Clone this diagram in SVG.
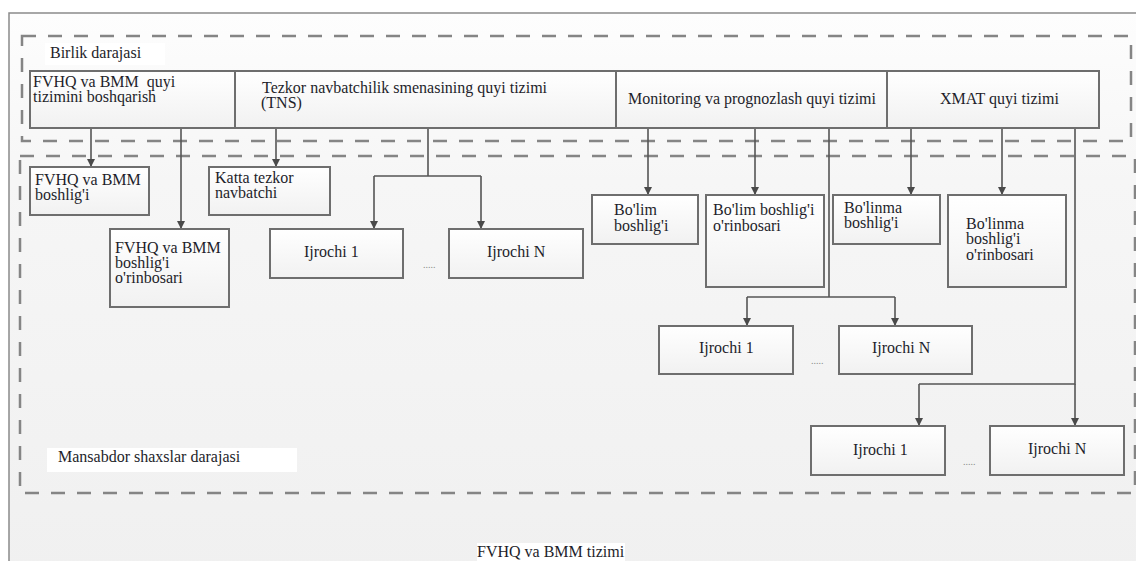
<svg xmlns="http://www.w3.org/2000/svg" width="1136" height="561" viewBox="0 0 1136 561">
<defs>
<linearGradient id="bg" x1="0" y1="0" x2="0" y2="1">
<stop offset="0" stop-color="#fdfdfd"/>
<stop offset="0.3" stop-color="#f6f6f6"/>
<stop offset="1" stop-color="#f0f0f0"/>
</linearGradient>
<linearGradient id="box" x1="0" y1="0" x2="0" y2="1">
<stop offset="0" stop-color="#ffffff"/>
<stop offset="1" stop-color="#f1f1f1"/>
</linearGradient>
<marker id="arr" viewBox="0 0 10 10" refX="10" refY="5" markerWidth="10" markerHeight="8" markerUnits="userSpaceOnUse" orient="auto">
<path d="M0,0 L10,5 L0,10 z" fill="#4a4a4a"/>
</marker>
</defs>
<style>
text { font-family: "Liberation Serif", "Times New Roman", serif; font-size: 16px; fill: #1e1e2a; }
.node rect { fill: url(#box); stroke: #6e6e6e; stroke-width: 2; }
.dash { fill: none; stroke: #858585; stroke-width: 2.5; stroke-dasharray: 14 12; }
.conn path { fill: none; stroke: #555; stroke-width: 1.6; }
.conn path.a { marker-end: url(#arr); }
.dots { font-size: 10px; fill: #8a8a8a; }
</style>
<rect x="0" y="0" width="1136" height="561" fill="#ffffff"/>
<rect x="9" y="13" width="1140" height="560" fill="url(#bg)" stroke="#8a8a8a" stroke-width="1.5"/>
<rect x="22" y="36" width="1109" height="105" class="dash"/>
<rect x="20" y="156" width="1115" height="337" class="dash"/>
<g id="level-labels">
<rect x="45" y="43" width="120" height="22" fill="#ffffff"/>
<text x="50" y="58">Birlik darajasi</text>
<rect x="47" y="448" width="250" height="24" fill="#ffffff"/>
<text x="58" y="462">Mansabdor shaxslar darajasi</text>
<rect x="477" y="543" width="148" height="18" fill="#ffffff"/>
<text x="477" y="557">FVHQ va BMM tizimi</text>
</g>
<g id="connectors" class="conn">
<path class="a" d="M91,128 V167"/>
<path class="a" d="M181,128 V229"/>
<path class="a" d="M276,128 V167"/>
<path d="M428,128 V176 M374,176 H481"/>
<path class="a" d="M374,176 V229"/>
<path class="a" d="M481,176 V229"/>
<path class="a" d="M648,128 V195"/>
<path class="a" d="M755,128 V195"/>
<path d="M829,128 V297 M747,297 H895"/>
<path class="a" d="M747,297 V326"/>
<path class="a" d="M895,297 V326"/>
<path class="a" d="M911,128 V195"/>
<path class="a" d="M1002,128 V195"/>
<path d="M1075,128 V384 H919"/>
<path class="a" d="M919,384 V426"/>
<path class="a" d="M1075,384 V426"/>
</g>
<g id="n1" class="node"><rect x="30" y="71" width="205" height="57"/><text x="33" y="87">FVHQ va BMM&#160; quyi</text><text x="33" y="102">tizimini boshqarish</text></g>
<g id="n2" class="node"><rect x="235" y="71" width="381" height="57"/><text x="262" y="93">Tezkor navbatchilik smenasining quyi tizimi</text><text x="261" y="108">(TNS)</text></g>
<g id="n3" class="node"><rect x="616" y="71" width="271" height="57"/><text x="628" y="104">Monitoring va prognozlash quyi tizimi</text></g>
<g id="n4" class="node"><rect x="887" y="71" width="212" height="57"/><text x="940" y="104">XMAT quyi tizimi</text></g>
<g id="n5" class="node"><rect x="30" y="167" width="119" height="48"/><text x="35" y="185">FVHQ va BMM</text><text x="35" y="200">boshlig'i</text></g>
<g id="n6" class="node"><rect x="110" y="229" width="119" height="78"/><text x="115" y="253">FVHQ va BMM</text><text x="115" y="268">boshlig'i</text><text x="115" y="283">o'rinbosari</text></g>
<g id="n7" class="node"><rect x="209" y="167" width="121" height="48"/><text x="215" y="183">Katta tezkor</text><text x="215" y="198">navbatchi</text></g>
<g id="n8" class="node"><rect x="270" y="229" width="133" height="49"/><text x="304" y="257">Ijrochi 1</text></g>
<g id="n9" class="node"><rect x="449" y="229" width="134" height="49"/><text x="487" y="257">Ijrochi N</text></g>
<g id="n10" class="node"><rect x="592" y="195" width="106" height="49"/><text x="614" y="215">Bo'lim</text><text x="614" y="231">boshlig'i</text></g>
<g id="n11" class="node"><rect x="706" y="195" width="118" height="92"/><text x="713" y="215">Bo'lim boshlig'i</text><text x="713" y="231">o'rinbosari</text></g>
<g id="n12" class="node"><rect x="833" y="195" width="107" height="49"/><text x="844" y="213">Bo'linma</text><text x="844" y="228">boshlig'i</text></g>
<g id="n13" class="node"><rect x="948" y="195" width="118" height="92"/><text x="966" y="229">Bo'linma</text><text x="966" y="244">boshlig'i</text><text x="966" y="260">o'rinbosari</text></g>
<g id="n14" class="node"><rect x="659" y="326" width="134" height="48"/><text x="699" y="353">Ijrochi 1</text></g>
<g id="n15" class="node"><rect x="839" y="326" width="133" height="48"/><text x="872" y="353">Ijrochi N</text></g>
<g id="n16" class="node"><rect x="811" y="426" width="134" height="49"/><text x="853" y="455">Ijrochi 1</text></g>
<g id="n17" class="node"><rect x="990" y="426" width="134" height="49"/><text x="1028" y="454">Ijrochi N</text></g>
<g id="ellipses">
<text class="dots" x="423" y="268">.....</text>
<text class="dots" x="811" y="364">.....</text>
<text class="dots" x="963" y="465">.....</text>
</g>
</svg>
